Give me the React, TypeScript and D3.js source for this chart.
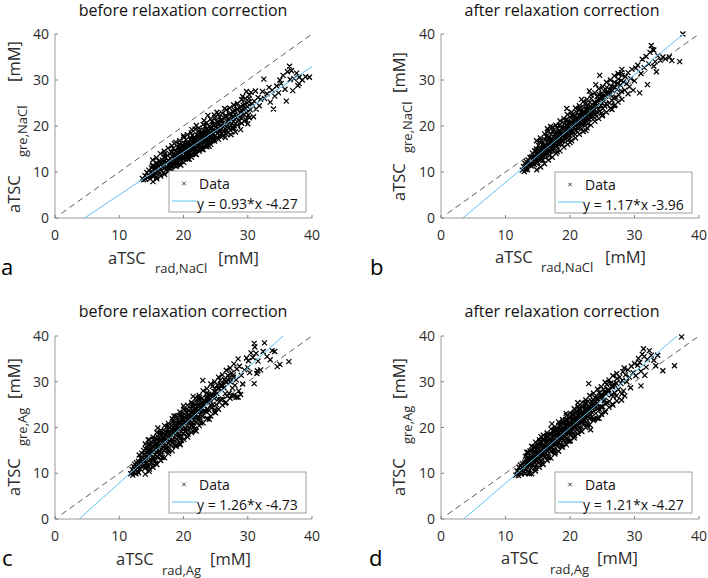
import * as d3 from "d3";

type Pt = [number, number];

// panel a: aTSC gre,NaCl vs rad,NaCl before correction
const pointsA: Pt[] = [
  [13.6, 8.6], [13.8, 8.3], [14.0, 9.2], [14.1, 8.4], [14.3, 9.9], [14.4, 8.8], [14.6, 10.4], [14.7, 9.0], [14.8, 8.5], [14.9, 9.8],
  [15.0, 10.9], [15.1, 9.3], [15.2, 10.0], [15.3, 11.4], [15.4, 9.1], [15.5, 10.6], [15.6, 9.7], [15.7, 11.0], [15.8, 8.9], [15.9, 10.3],
  [16.0, 11.8], [16.1, 10.0], [16.1, 11.2], [16.2, 12.3], [16.3, 9.8], [16.4, 10.9], [16.5, 11.6], [16.6, 10.2], [16.7, 12.6], [16.8, 11.0], [16.9, 9.9], [16.9, 11.9],
  [17.0, 12.4], [17.0, 10.8], [17.1, 11.6], [17.2, 13.2], [17.3, 10.5], [17.3, 12.0], [17.4, 11.2], [17.5, 13.6], [17.5, 10.9], [17.6, 12.5], [17.7, 11.5], [17.8, 14.0], [17.8, 10.6], [17.9, 12.2], [17.9, 11.0],
  [18.0, 13.0], [18.0, 11.6], [18.1, 12.4], [18.1, 14.3], [18.2, 11.2], [18.3, 13.5], [18.3, 12.1], [18.4, 15.1], [18.4, 11.8], [18.5, 12.9], [18.5, 14.0], [18.6, 11.4], [18.7, 13.3], [18.7, 12.5], [18.8, 14.6], [18.8, 11.9], [18.9, 13.1], [18.9, 12.3],
  [19.0, 14.2], [19.0, 12.4], [19.1, 13.5], [19.1, 15.4], [19.2, 12.1], [19.2, 13.9], [19.3, 14.8], [19.3, 12.8], [19.4, 13.3], [19.4, 16.0], [19.5, 12.6], [19.5, 14.5], [19.6, 13.7], [19.6, 15.1], [19.7, 12.3], [19.7, 14.0], [19.8, 13.2], [19.8, 15.8], [19.9, 12.9], [19.9, 14.4],
  [20.0, 15.0], [20.0, 13.3], [20.1, 14.4], [20.1, 16.3], [20.2, 12.9], [20.2, 14.9], [20.3, 13.8], [20.3, 15.6], [20.4, 14.1], [20.4, 17.0], [20.5, 13.1], [20.5, 15.2], [20.6, 14.6], [20.6, 16.5], [20.7, 13.5], [20.7, 15.0], [20.8, 14.2], [20.8, 16.0], [20.9, 12.8], [20.9, 15.4],
  [21.0, 16.0], [21.0, 14.2], [21.1, 15.3], [21.1, 17.2], [21.2, 13.8], [21.2, 15.9], [21.3, 14.7], [21.3, 16.6], [21.4, 15.1], [21.4, 18.0], [21.5, 14.0], [21.5, 16.2], [21.6, 15.5], [21.6, 17.5], [21.7, 14.5], [21.7, 16.0], [21.8, 15.2], [21.8, 17.0], [21.9, 13.9], [21.9, 16.4],
  [22.0, 17.0], [22.0, 15.1], [22.1, 16.2], [22.1, 18.1], [22.2, 14.8], [22.2, 16.8], [22.3, 15.7], [22.3, 17.5], [22.4, 16.0], [22.4, 19.0], [22.5, 15.0], [22.5, 17.2], [22.6, 16.4], [22.6, 18.4], [22.7, 15.4], [22.7, 17.0], [22.8, 16.2], [22.8, 18.0], [22.9, 14.9], [22.9, 17.3],
  [23.0, 17.9], [23.0, 16.0], [23.1, 17.1], [23.1, 19.1], [23.2, 15.7], [23.2, 17.7], [23.3, 16.6], [23.3, 18.5], [23.4, 17.0], [23.4, 20.0], [23.5, 15.9], [23.5, 18.1], [23.6, 17.3], [23.6, 19.3], [23.7, 16.3], [23.7, 18.0], [23.8, 17.1], [23.8, 19.0], [23.9, 15.8], [23.9, 18.2],
  [24.0, 18.9], [24.0, 17.0], [24.1, 18.0], [24.1, 20.0], [24.2, 16.6], [24.2, 18.6], [24.3, 17.5], [24.3, 19.4], [24.4, 18.0], [24.4, 21.0], [24.5, 16.8], [24.5, 19.1], [24.6, 18.2], [24.6, 20.2], [24.7, 17.2], [24.8, 19.0], [24.9, 17.9], [24.9, 20.6],
  [25.0, 19.8], [25.0, 17.9], [25.1, 19.0], [25.2, 20.9], [25.2, 17.5], [25.3, 19.5], [25.4, 18.4], [25.5, 20.3], [25.5, 18.9], [25.6, 22.0], [25.7, 17.8], [25.8, 20.0], [25.8, 19.1], [25.9, 21.2],
  [26.0, 18.4], [26.1, 20.6], [26.2, 19.8], [26.3, 21.7], [26.3, 18.9], [26.4, 20.2], [26.5, 19.4], [26.6, 22.3], [26.7, 19.0], [26.8, 21.0], [26.9, 20.3], [26.9, 18.6],
  [27.0, 21.6], [27.1, 19.7], [27.2, 20.9], [27.3, 22.8], [27.4, 20.2], [27.5, 21.4], [27.6, 19.5], [27.7, 22.0], [27.8, 21.1], [27.9, 23.5], [27.9, 20.0],
  [28.0, 22.5], [28.1, 20.6], [28.2, 21.8], [28.3, 23.6], [28.4, 20.9], [28.5, 22.4], [28.6, 21.2], [28.7, 24.0], [28.8, 22.0], [28.9, 19.2], [28.9, 23.0],
  [29.0, 23.4], [29.1, 21.6], [29.3, 24.5], [29.4, 22.5], [29.5, 21.0], [29.6, 23.8], [29.8, 22.9], [29.9, 25.0],
  [30.0, 24.2], [30.1, 22.4], [30.2, 26.0], [30.4, 23.5], [30.5, 27.3], [30.7, 24.8], [30.9, 22.0], [31.0, 25.4], [31.2, 27.6], [31.3, 23.7],
  [31.6, 26.2], [31.8, 24.4], [32.0, 25.8], [32.3, 27.5], [32.5, 30.2], [32.6, 26.0], [33.0, 27.0], [33.3, 28.4], [33.5, 25.2], [33.8, 27.8],
  [34.0, 23.7], [34.2, 26.5], [34.5, 28.7], [34.8, 27.2], [35.0, 30.0], [35.2, 29.2], [35.5, 31.0], [35.8, 28.0], [36.0, 25.4], [36.2, 31.8],
  [36.5, 33.0], [36.6, 30.1], [36.8, 32.0], [37.0, 27.7], [37.2, 30.3], [37.6, 31.5], [38.0, 29.2], [38.0, 30.6], [38.5, 30.0], [39.0, 30.7], [39.6, 30.6], [37.8, 28.8],
  [20.0, 17.9], [21.3, 19.2], [22.0, 20.1], [23.2, 21.2], [24.8, 22.4], [25.2, 23.0], [26.4, 23.8], [27.8, 24.6], [29.2, 26.4], [29.8, 27.5], [23.8, 22.3], [17.0, 13.9], [18.6, 16.2],
  [24.0, 15.6], [26.5, 17.5], [28.1, 18.7], [27.4, 18.1], [22.0, 13.8], [19.6, 11.5], [30.0, 20.5],
  [15.2, 12.6], [15.25, 7.9], [15.15, 11.3], [15.8, 13.1], [15.85, 8.5], [15.75, 11.9], [16.4, 14.0], [16.45, 9.1], [16.35, 12.4],
  [17.0, 14.5], [17.05, 9.5], [16.95, 13.1], [17.6, 15.2], [17.65, 10.1], [17.55, 13.5], [18.2, 15.7], [18.25, 10.5], [18.15, 14.2],
  [18.8, 16.5], [18.85, 11.2], [18.75, 14.5], [19.4, 16.8], [19.45, 11.6], [19.35, 15.3], [20.05, 17.5], [20.05, 12.1], [19.95, 15.7],
  [20.6, 18.1], [20.65, 12.8], [20.55, 16.4], [21.2, 18.5], [21.25, 13.2], [21.15, 16.9], [21.8, 19.3], [21.85, 13.9], [21.75, 17.5],
  [22.4, 19.6], [22.45, 14.5], [22.35, 18.0], [23.05, 20.3], [23.05, 14.9], [22.95, 18.6], [23.6, 20.7], [23.65, 15.5], [23.55, 19.2],
  [24.2, 21.5], [24.25, 16.0], [24.15, 19.6], [24.85, 21.8], [24.85, 16.7], [24.75, 20.3], [25.4, 22.5], [25.45, 17.1], [25.35, 20.8],
  [26.05, 22.8], [26.05, 17.8], [25.95, 21.4], [26.65, 23.5], [26.65, 18.3], [26.55, 21.9], [27.2, 23.9], [27.25, 19.1], [27.15, 22.5],
  [27.85, 24.5], [27.85, 19.5], [27.75, 23.0], [28.4, 24.9], [28.45, 20.2], [28.35, 23.6], [29.05, 25.7], [29.05, 20.6], [28.95, 24.2],
  [29.65, 26.0], [29.65, 21.4], [29.55, 24.7], [30.25, 26.7], [30.25, 21.8], [30.15, 25.3],
];

// panel b: after correction, NaCl
const pointsB: Pt[] = [
  [12.6, 10.4], [12.8, 11.2], [12.9, 10.1], [13.0, 11.9], [13.1, 10.6], [13.2, 12.3], [13.3, 11.0], [13.4, 10.5], [13.5, 12.6], [13.6, 11.4], [13.7, 12.0], [13.8, 13.1], [13.9, 11.6],
  [14.0, 13.2], [14.0, 11.3], [14.1, 12.6], [14.2, 14.1], [14.2, 11.8], [14.3, 13.3], [14.4, 12.2], [14.5, 14.6], [14.5, 11.6], [14.6, 13.4], [14.7, 12.9], [14.8, 15.0], [14.8, 11.9], [14.9, 13.8], [14.9, 12.3],
  [15.0, 14.4], [15.0, 12.1], [15.1, 13.8], [15.1, 15.8], [15.2, 12.5], [15.2, 14.6], [15.3, 13.2], [15.3, 16.5], [15.4, 12.9], [15.4, 15.3], [15.5, 14.1], [15.5, 16.8], [15.6, 12.8], [15.6, 14.7], [15.7, 13.4], [15.7, 16.0], [15.8, 14.2], [15.8, 12.6], [15.9, 15.6], [15.9, 14.0],
  [16.0, 15.6], [16.0, 13.3], [16.1, 15.0], [16.1, 17.0], [16.2, 13.7], [16.2, 15.8], [16.3, 14.3], [16.3, 17.7], [16.4, 14.1], [16.4, 16.5], [16.5, 15.3], [16.5, 18.0], [16.6, 13.9], [16.6, 15.9], [16.7, 14.5], [16.7, 17.3], [16.8, 15.4], [16.8, 13.6], [16.9, 16.8], [16.9, 15.6],
  [17.0, 16.8], [17.0, 14.5], [17.1, 16.2], [17.1, 18.2], [17.2, 14.9], [17.2, 17.0], [17.3, 15.5], [17.3, 18.9], [17.4, 15.2], [17.4, 17.7], [17.5, 16.5], [17.5, 19.1], [17.6, 15.0], [17.6, 17.0], [17.7, 15.7], [17.7, 18.4], [17.8, 16.5], [17.8, 14.7], [17.9, 18.0], [17.9, 16.8],
  [18.0, 17.9], [18.0, 15.6], [18.1, 17.3], [18.1, 19.4], [18.2, 16.1], [18.2, 18.2], [18.3, 16.7], [18.3, 20.1], [18.4, 16.4], [18.4, 18.9], [18.5, 17.6], [18.5, 20.3], [18.6, 16.2], [18.6, 18.2], [18.7, 16.8], [18.7, 19.6], [18.8, 17.7], [18.8, 15.9], [18.9, 19.2], [18.9, 18.0],
  [19.0, 19.1], [19.0, 16.8], [19.1, 18.5], [19.1, 20.5], [19.2, 17.2], [19.2, 19.4], [19.3, 17.9], [19.3, 21.3], [19.4, 17.6], [19.4, 20.1], [19.5, 18.8], [19.5, 21.4], [19.6, 17.4], [19.6, 19.4], [19.7, 18.0], [19.7, 20.8], [19.8, 18.9], [19.8, 17.0], [19.9, 20.4], [19.9, 19.2],
  [20.0, 20.2], [20.0, 17.9], [20.1, 19.6], [20.1, 21.7], [20.2, 18.4], [20.2, 20.5], [20.3, 19.0], [20.3, 22.4], [20.4, 18.8], [20.4, 21.3], [20.5, 19.9], [20.5, 22.6], [20.6, 18.5], [20.6, 20.6], [20.7, 19.2], [20.7, 22.0], [20.8, 20.0], [20.8, 18.2], [20.9, 21.6], [20.9, 20.3],
  [21.0, 21.4], [21.0, 19.1], [21.1, 20.8], [21.1, 22.9], [21.2, 19.6], [21.2, 21.7], [21.3, 20.2], [21.3, 23.6], [21.4, 19.9], [21.4, 22.4], [21.5, 21.1], [21.5, 23.8], [21.6, 19.7], [21.6, 21.8], [21.7, 20.4], [21.7, 23.1], [21.8, 21.2], [21.8, 19.4], [21.9, 22.7], [21.9, 21.5],
  [22.0, 22.6], [22.0, 20.3], [22.1, 22.0], [22.1, 24.0], [22.2, 20.7], [22.2, 22.9], [22.3, 21.4], [22.3, 24.8], [22.4, 21.0], [22.4, 23.6], [22.5, 22.3], [22.5, 25.0], [22.6, 20.8], [22.6, 22.9], [22.7, 21.6], [22.7, 24.3], [22.8, 22.4], [22.8, 20.5], [22.9, 23.9], [22.9, 22.7],
  [23.0, 23.8], [23.0, 21.5], [23.1, 23.1], [23.1, 25.2], [23.2, 21.9], [23.3, 22.6], [23.3, 26.0], [23.4, 22.2], [23.4, 24.7], [23.5, 23.5], [23.6, 22.1], [23.6, 24.0], [23.7, 22.7], [23.8, 23.6], [23.8, 21.7], [23.9, 25.1],
  [24.0, 24.9], [24.0, 22.6], [24.1, 24.3], [24.2, 26.4], [24.2, 23.0], [24.3, 25.2], [24.4, 23.6], [24.5, 26.9], [24.6, 23.2], [24.7, 25.9], [24.8, 24.5], [24.9, 22.8], [24.9, 27.0],
  [25.0, 26.1], [25.1, 23.8], [25.2, 25.5], [25.3, 27.6], [25.4, 24.3], [25.5, 26.5], [25.6, 24.9], [25.7, 28.4], [25.8, 24.6], [25.9, 27.1],
  [26.0, 27.3], [26.1, 25.0], [26.2, 26.7], [26.4, 28.7], [26.5, 25.6], [26.6, 27.7], [26.8, 26.1], [26.9, 29.5],
  [27.0, 28.4], [27.1, 26.2], [27.3, 27.9], [27.5, 30.2], [27.6, 26.7], [27.8, 28.9], [28.0, 27.5], [28.1, 31.0],
  [28.3, 29.6], [28.5, 27.8], [28.6, 30.7], [28.8, 29.2], [29.0, 31.6], [29.2, 28.5], [29.4, 30.3], [29.6, 32.3],
  [24.6, 31.0], [27.5, 31.3], [28.0, 31.6], [29.0, 27.0], [30.0, 29.8], [30.2, 32.6], [30.5, 33.2], [30.8, 27.2], [31.0, 31.4], [31.2, 34.5],
  [31.5, 32.7], [31.8, 35.1], [32.0, 29.0], [32.2, 33.5], [32.4, 36.0], [32.6, 37.5], [32.8, 36.6], [33.0, 33.0], [33.2, 34.0], [33.4, 31.8],
  [33.6, 35.3], [34.0, 34.3], [34.4, 35.0], [34.8, 34.6], [35.4, 35.0], [35.8, 34.2], [37.0, 34.0], [37.5, 40.0], [33.0, 36.5], [29.8, 27.8],
  [17.0, 19.9], [16.5, 19.4], [19.5, 23.8], [21.8, 25.8], [23.0, 27.6], [20.0, 16.4], [22.5, 19.0], [25.0, 22.2], [26.5, 23.6], [27.0, 24.6], [18.0, 14.4], [24.0, 29.0],
  [14.8, 16.8], [14.85, 10.5], [14.75, 14.6], [15.4, 17.4], [15.45, 11.1], [15.35, 15.3], [16.05, 18.3], [16.05, 11.8], [15.95, 15.9],
  [16.6, 18.8], [16.65, 12.6], [16.55, 16.7], [17.25, 19.7], [17.25, 13.2], [17.15, 17.3], [17.8, 20.2], [17.85, 14.0], [17.75, 18.1],
  [18.45, 21.1], [18.45, 14.6], [18.35, 18.7], [19.05, 21.6], [19.05, 15.4], [18.95, 19.5], [19.6, 22.5], [19.65, 16.0], [19.55, 20.1],
  [20.25, 23.0], [20.25, 16.8], [20.15, 20.9], [20.85, 23.9], [20.85, 17.4], [20.75, 21.5], [21.45, 24.4], [21.45, 18.2], [21.35, 22.3],
  [22.05, 25.3], [22.05, 18.8], [21.95, 22.9], [22.65, 25.8], [22.65, 19.6], [22.55, 23.7], [23.25, 26.7], [23.25, 20.2], [23.15, 24.3],
  [23.85, 27.2], [23.85, 21.0], [23.75, 25.1], [24.45, 28.1], [24.45, 21.6], [24.35, 25.7], [25.05, 28.6], [25.05, 22.4], [24.95, 26.5],
  [25.65, 29.5], [25.65, 23.0], [25.55, 27.1], [26.25, 30.0], [26.25, 23.8], [26.15, 27.9], [26.85, 30.9], [26.85, 24.4], [26.75, 28.5],
  [27.45, 31.4], [27.45, 25.2], [27.35, 29.3], [28.05, 32.3], [28.05, 25.8], [27.95, 29.9],
];

// panel c: before correction, Ag
const pointsC: Pt[] = [
  [11.8, 9.9], [12.0, 10.8], [12.1, 9.6], [12.2, 11.5], [12.3, 10.2], [12.4, 12.0], [12.5, 10.7], [12.6, 9.9], [12.7, 12.3], [12.8, 11.2], [12.9, 11.8], [12.9, 10.4],
  [13.0, 12.6], [13.0, 10.1], [13.1, 12.2], [13.1, 14.0], [13.2, 11.0], [13.3, 13.3], [13.3, 10.9], [13.4, 12.4], [13.5, 11.5], [13.5, 14.4], [13.6, 11.4], [13.7, 13.4], [13.8, 12.5], [13.8, 15.0], [13.9, 11.6], [13.9, 13.1],
  [14.0, 13.9], [14.0, 11.1], [14.1, 13.4], [14.1, 15.3], [14.2, 12.2], [14.2, 14.6], [14.3, 11.5], [14.3, 16.0], [14.4, 12.3], [14.4, 15.0], [14.5, 13.5], [14.5, 16.3], [14.6, 11.4], [14.6, 14.2], [14.7, 10.9], [14.7, 15.0], [14.8, 13.1], [14.8, 16.3], [14.9, 12.3], [14.9, 14.0],
  [15.0, 15.2], [15.0, 12.4], [15.1, 14.7], [15.1, 16.6], [15.2, 13.5], [15.2, 15.9], [15.3, 12.9], [15.3, 17.4], [15.4, 13.5], [15.4, 16.3], [15.5, 14.8], [15.5, 17.6], [15.6, 12.7], [15.6, 15.5], [15.7, 12.2], [15.7, 16.4], [15.8, 14.6], [15.8, 17.5], [15.9, 13.7], [15.9, 15.3],
  [16.0, 16.4], [16.0, 13.6], [16.1, 15.9], [16.1, 17.9], [16.2, 14.8], [16.2, 17.2], [16.3, 14.1], [16.3, 18.7], [16.4, 14.8], [16.4, 17.6], [16.5, 16.0], [16.5, 18.9], [16.6, 13.9], [16.6, 16.7], [16.7, 13.5], [16.7, 17.7], [16.8, 15.8], [16.8, 18.7], [16.9, 15.0], [16.9, 16.6],
  [17.0, 17.7], [17.0, 14.9], [17.1, 17.2], [17.1, 19.1], [17.2, 16.0], [17.2, 18.4], [17.3, 15.3], [17.3, 20.0], [17.4, 16.1], [17.4, 18.9], [17.5, 17.3], [17.5, 20.2], [17.6, 15.2], [17.6, 18.0], [17.7, 14.8], [17.7, 19.0], [17.8, 17.1], [17.8, 20.0], [17.9, 16.2], [17.9, 17.9],
  [18.0, 19.0], [18.0, 16.2], [18.1, 18.4], [18.1, 20.4], [18.2, 17.3], [18.2, 19.7], [18.3, 16.6], [18.3, 21.3], [18.4, 17.3], [18.4, 20.1], [18.5, 18.6], [18.5, 21.4], [18.6, 16.4], [18.6, 19.3], [18.7, 16.0], [18.7, 20.2], [18.8, 18.4], [18.8, 21.2], [18.9, 17.5], [18.9, 19.2],
  [19.0, 20.2], [19.0, 17.4], [19.1, 19.7], [19.1, 21.6], [19.2, 18.5], [19.2, 20.9], [19.3, 17.9], [19.3, 22.6], [19.4, 18.6], [19.4, 21.4], [19.5, 19.8], [19.5, 22.7], [19.6, 17.7], [19.6, 20.5], [19.7, 17.2], [19.7, 21.5], [19.8, 19.7], [19.8, 22.5], [19.9, 18.7], [19.9, 20.4],
  [20.0, 21.5], [20.0, 18.7], [20.1, 21.0], [20.1, 22.9], [20.2, 19.8], [20.2, 22.2], [20.3, 19.1], [20.3, 23.8], [20.4, 19.8], [20.4, 22.6], [20.5, 21.1], [20.5, 24.0], [20.6, 18.9], [20.6, 21.7], [20.7, 18.5], [20.7, 22.7], [20.8, 20.9], [20.8, 23.7], [20.9, 20.0], [20.9, 21.7],
  [21.0, 22.7], [21.0, 19.9], [21.1, 22.3], [21.1, 24.2], [21.2, 21.0], [21.2, 23.4], [21.3, 20.4], [21.3, 25.1], [21.4, 21.1], [21.4, 23.9], [21.5, 22.3], [21.5, 25.2], [21.6, 20.2], [21.6, 23.0], [21.7, 19.7], [21.7, 24.0], [21.8, 22.2], [21.8, 25.0], [21.9, 21.2], [21.9, 22.9],
  [22.0, 24.0], [22.0, 21.2], [22.1, 23.5], [22.1, 25.5], [22.2, 22.3], [22.2, 24.7], [22.3, 21.6], [22.3, 26.4], [22.4, 22.3], [22.4, 25.1], [22.5, 23.6], [22.5, 26.5], [22.6, 21.4], [22.6, 24.2], [22.7, 21.0], [22.7, 25.2], [22.8, 23.5], [22.8, 26.3], [22.9, 22.5], [22.9, 24.2],
  [23.0, 25.3], [23.0, 22.5], [23.1, 24.8], [23.2, 23.6], [23.2, 26.0], [23.3, 25.9], [23.4, 23.6], [23.5, 25.6], [23.6, 27.5], [23.6, 23.4], [23.7, 22.0], [23.8, 26.5], [23.8, 24.0], [23.9, 27.3], [23.9, 25.4],
  [24.0, 26.5], [24.0, 23.7], [24.1, 26.1], [24.2, 24.9], [24.3, 27.3], [24.4, 24.3], [24.5, 29.0], [24.6, 25.0], [24.7, 27.0], [24.8, 26.4], [24.9, 23.9], [24.9, 28.6],
  [25.0, 27.8], [25.1, 25.0], [25.2, 27.4], [25.3, 29.3], [25.4, 26.2], [25.5, 28.6], [25.6, 25.5], [25.7, 30.3], [25.8, 26.1], [25.9, 29.0],
  [26.0, 29.0], [26.1, 26.2], [26.3, 28.7], [26.4, 30.5], [26.5, 27.4], [26.7, 29.9], [26.8, 26.8], [26.9, 31.4],
  [27.0, 30.3], [27.1, 27.5], [27.3, 30.0], [27.5, 31.9], [27.6, 28.6], [27.8, 31.0], [28.0, 29.2], [28.2, 26.6],
  [28.3, 32.8], [28.5, 35.0], [28.7, 33.4], [28.2, 30.4], [28.6, 28.0], [28.9, 27.2], [29.0, 31.4], [29.5, 32.6], [29.8, 35.2], [30.1, 34.6],
  [30.3, 32.0], [30.5, 36.3], [30.8, 35.3], [31.0, 38.4], [31.1, 37.6], [31.3, 36.2], [31.4, 31.8], [31.0, 29.6], [31.6, 34.5], [32.0, 32.6],
  [32.4, 36.6], [32.6, 38.5], [33.0, 35.5], [33.5, 34.8], [33.8, 36.8], [34.2, 36.6], [34.6, 33.3], [35.0, 33.8], [36.4, 34.4], [30.0, 33.1], [29.2, 29.5], [31.5, 32.4],
  [16.0, 19.9], [18.5, 22.5], [21.5, 26.8], [23.0, 30.3], [14.5, 17.3], [19.5, 16.2], [22.0, 19.2], [24.0, 21.8], [25.0, 23.2], [26.5, 25.3], [27.5, 27.0], [28.5, 26.6], [20.0, 24.7],
  [14.05, 16.4], [14.05, 9.8], [13.95, 14.2], [14.65, 17.3], [14.65, 10.4], [14.55, 15.1], [15.25, 17.9], [15.25, 11.3], [15.15, 15.7],
  [15.85, 18.9], [15.85, 11.9], [15.75, 16.4], [16.45, 19.4], [16.45, 12.8], [16.35, 17.3], [17.05, 20.4], [17.05, 13.4], [16.95, 17.9],
  [17.65, 20.9], [17.65, 14.3], [17.55, 18.8], [18.25, 21.9], [18.25, 14.9], [18.15, 19.4], [18.85, 22.5], [18.85, 15.9], [18.75, 20.4],
  [19.45, 23.4], [19.45, 16.4], [19.35, 20.9], [20.05, 24.0], [20.05, 17.4], [19.95, 21.9], [20.65, 24.9], [20.65, 17.9], [20.55, 22.4],
  [21.25, 25.5], [21.25, 18.9], [21.15, 23.4], [21.85, 26.4], [21.85, 19.4], [21.75, 23.9], [22.45, 27.0], [22.45, 20.4], [22.35, 24.9],
  [23.05, 28.0], [23.05, 21.0], [22.95, 25.5], [23.65, 28.5], [23.65, 21.9], [23.55, 26.4], [24.25, 29.5], [24.25, 22.5], [24.15, 27.0],
  [24.85, 30.0], [24.85, 23.4], [24.75, 27.9], [25.45, 31.0], [25.45, 24.0], [25.35, 28.5], [26.05, 31.5], [26.05, 24.9], [25.95, 29.4],
  [26.65, 32.5], [26.65, 25.5], [26.55, 30.0], [27.25, 33.0], [27.25, 26.4], [27.15, 30.9], [27.85, 33.9], [27.85, 27.0], [27.75, 31.5],
];

// panel d: after correction, Ag
const pointsD: Pt[] = [
  [11.6, 9.6], [11.8, 10.5], [12.0, 9.5], [12.1, 11.3], [12.2, 10.1], [12.3, 11.8], [12.4, 10.6], [12.5, 9.9], [12.6, 12.1], [12.7, 11.1], [12.8, 11.6], [12.9, 10.3],
  [13.0, 12.4], [13.0, 9.9], [13.1, 12.0], [13.1, 13.7], [13.2, 10.9], [13.2, 13.1], [13.3, 10.9], [13.3, 14.6], [13.4, 11.3], [13.4, 13.5], [13.5, 12.3], [13.5, 14.6], [13.6, 10.1], [13.6, 12.8], [13.7, 9.9], [13.7, 13.3], [13.8, 12.2], [13.8, 14.9], [13.9, 11.8], [13.9, 13.1],
  [14.0, 13.6], [14.0, 11.1], [14.1, 13.2], [14.1, 14.9], [14.2, 12.1], [14.2, 14.3], [14.3, 12.0], [14.3, 15.7], [14.4, 12.5], [14.4, 14.7], [14.5, 13.4], [14.5, 15.8], [14.6, 11.3], [14.6, 13.9], [14.7, 11.0], [14.7, 14.6], [14.8, 13.4], [14.8, 16.1], [14.9, 12.8], [14.9, 14.3],
  [15.0, 14.8], [15.0, 12.3], [15.1, 14.4], [15.1, 16.1], [15.2, 13.3], [15.2, 15.5], [15.3, 13.2], [15.3, 16.9], [15.4, 13.7], [15.4, 15.9], [15.5, 14.6], [15.5, 17.0], [15.6, 12.5], [15.6, 15.1], [15.7, 12.2], [15.7, 15.8], [15.8, 14.6], [15.8, 17.3], [15.9, 14.0], [15.9, 15.5],
  [16.0, 16.0], [16.0, 13.5], [16.1, 15.6], [16.1, 17.3], [16.2, 14.5], [16.2, 16.7], [16.3, 14.4], [16.3, 18.1], [16.4, 14.9], [16.4, 17.1], [16.5, 15.8], [16.5, 18.2], [16.6, 13.7], [16.6, 16.3], [16.7, 13.4], [16.7, 17.0], [16.8, 15.8], [16.8, 18.5], [16.9, 15.2], [16.9, 16.7],
  [17.0, 17.2], [17.0, 14.7], [17.1, 16.8], [17.1, 18.5], [17.2, 15.7], [17.2, 17.9], [17.3, 15.6], [17.3, 19.3], [17.4, 16.1], [17.4, 18.3], [17.5, 17.0], [17.5, 19.4], [17.6, 14.9], [17.6, 17.5], [17.7, 14.6], [17.7, 18.2], [17.8, 17.0], [17.8, 19.7], [17.9, 16.4], [17.9, 17.9],
  [18.0, 18.4], [18.0, 15.9], [18.1, 18.0], [18.1, 19.7], [18.2, 16.9], [18.2, 19.1], [18.3, 16.8], [18.3, 20.5], [18.4, 17.3], [18.4, 19.5], [18.5, 18.2], [18.5, 20.6], [18.6, 16.1], [18.6, 18.7], [18.7, 15.8], [18.7, 19.4], [18.8, 18.2], [18.8, 20.9], [18.9, 17.6], [18.9, 19.1],
  [19.0, 19.6], [19.0, 17.1], [19.1, 19.2], [19.1, 20.9], [19.2, 18.1], [19.2, 20.3], [19.3, 18.0], [19.3, 21.7], [19.4, 18.5], [19.4, 20.7], [19.5, 19.4], [19.5, 21.8], [19.6, 17.3], [19.6, 19.9], [19.7, 17.0], [19.7, 20.6], [19.8, 19.4], [19.8, 22.1], [19.9, 18.8], [19.9, 20.3],
  [20.0, 20.8], [20.0, 18.3], [20.1, 20.4], [20.1, 22.1], [20.2, 19.3], [20.2, 21.5], [20.3, 19.2], [20.3, 22.9], [20.4, 19.7], [20.4, 21.9], [20.5, 20.6], [20.5, 23.0], [20.6, 18.5], [20.6, 21.1], [20.7, 18.2], [20.7, 21.8], [20.8, 20.6], [20.8, 23.3], [20.9, 20.0], [20.9, 21.5],
  [21.0, 22.0], [21.0, 19.5], [21.1, 21.6], [21.1, 23.3], [21.2, 20.5], [21.2, 22.7], [21.3, 20.4], [21.3, 24.1], [21.4, 20.9], [21.4, 23.1], [21.5, 21.8], [21.5, 24.2], [21.6, 19.7], [21.6, 22.3], [21.7, 19.4], [21.7, 23.0], [21.8, 21.8], [21.8, 24.5], [21.9, 21.2], [21.9, 22.7],
  [22.0, 23.2], [22.0, 20.7], [22.1, 22.8], [22.1, 24.5], [22.2, 21.7], [22.2, 23.9], [22.3, 21.6], [22.3, 25.3], [22.4, 22.1], [22.4, 24.3], [22.5, 23.0], [22.5, 25.4], [22.6, 20.9], [22.6, 23.5], [22.7, 20.6], [22.7, 24.2], [22.8, 23.0], [22.8, 25.7], [22.9, 22.4], [22.9, 23.9],
  [23.0, 24.4], [23.0, 21.9], [23.1, 24.0], [23.2, 22.9], [23.2, 25.1], [23.3, 25.8], [23.4, 23.3], [23.5, 24.2], [23.6, 26.0], [23.6, 21.9], [23.7, 24.6], [23.8, 21.8], [23.8, 24.8], [23.9, 24.4], [23.9, 26.5],
  [24.0, 25.6], [24.0, 23.1], [24.1, 25.2], [24.2, 24.1], [24.3, 26.3], [24.4, 24.2], [24.5, 27.6], [24.6, 23.9], [24.7, 26.4], [24.8, 24.6], [24.9, 27.3], [24.9, 22.9],
  [25.0, 26.8], [25.1, 24.5], [25.2, 28.3], [25.3, 25.9], [25.4, 27.7], [25.5, 25.2], [25.6, 27.3], [25.7, 29.4], [25.8, 25.4], [25.9, 28.1],
  [26.0, 28.0], [26.1, 25.7], [26.3, 29.7], [26.4, 27.1], [26.6, 28.8], [26.7, 26.8], [26.8, 29.5], [26.9, 27.6],
  [27.0, 29.2], [27.2, 26.9], [27.3, 30.7], [27.5, 28.3], [27.7, 31.0], [27.9, 29.6], [28.0, 27.3], [28.1, 30.3],
  [28.2, 32.2], [28.4, 33.0], [28.6, 31.5], [28.3, 28.0], [28.5, 26.9], [28.8, 30.0], [29.0, 32.6], [29.2, 31.0], [29.5, 33.4], [29.8, 32.0],
  [30.0, 34.0], [30.2, 31.3], [30.5, 33.6], [30.6, 35.1], [30.8, 34.2], [31.0, 32.3], [31.2, 36.0], [31.4, 37.2], [31.5, 35.5], [31.0, 29.1],
  [31.6, 31.4], [31.8, 33.2], [32.0, 34.9], [32.3, 36.8], [32.6, 35.8], [33.0, 34.7], [33.3, 33.5], [33.6, 35.8], [34.4, 32.4], [36.2, 33.5], [37.3, 39.8], [29.4, 28.7],
  [15.5, 18.0], [17.2, 20.8], [19.4, 23.1], [21.2, 25.4], [22.9, 29.6], [17.5, 15.0], [20.0, 17.0], [23.2, 19.5], [24.5, 22.0], [25.5, 23.4], [26.6, 25.1], [28.0, 26.0],
  [14.05, 15.9], [14.05, 9.9], [13.95, 13.9], [14.65, 16.8], [14.65, 10.5], [14.55, 14.5], [15.25, 17.3], [15.25, 11.3], [15.15, 15.3],
  [15.85, 18.3], [15.85, 11.9], [15.75, 16.0], [16.45, 18.8], [16.45, 12.8], [16.35, 16.9], [17.05, 19.7], [17.05, 13.3], [16.95, 17.4],
  [17.65, 20.2], [17.65, 14.2], [17.55, 18.3], [18.25, 21.2], [18.25, 14.8], [18.15, 18.9], [18.85, 21.7], [18.85, 15.7], [18.75, 19.8],
  [19.45, 22.6], [19.45, 16.2], [19.35, 20.3], [20.05, 23.1], [20.05, 17.1], [19.95, 21.2], [20.65, 24.1], [20.65, 17.7], [20.55, 21.8],
  [21.25, 24.6], [21.25, 18.6], [21.15, 22.7], [21.85, 25.5], [21.85, 19.1], [21.75, 23.2], [22.45, 26.0], [22.45, 20.0], [22.35, 24.1],
  [23.05, 27.0], [23.05, 20.6], [22.95, 24.7], [23.65, 27.5], [23.65, 21.5], [23.55, 25.4], [24.25, 28.4], [24.25, 22.0], [24.15, 26.3],
  [24.85, 28.9], [24.85, 22.9], [24.75, 26.8], [25.45, 29.9], [25.45, 23.5], [25.35, 27.8], [26.05, 30.4], [26.05, 24.4], [25.95, 28.3],
  [26.65, 31.3], [26.65, 24.9], [26.55, 29.2], [27.25, 31.8], [27.25, 25.8], [27.15, 29.7],
];

const panelPoints = [pointsA, pointsB, pointsC, pointsD];
const fitSlopes = [0.93, 1.17, 1.26, 1.21];
const fitIntercepts = [-4.27, -3.96, -4.73, -4.27];
const titles = [
  "before relaxation correction",
  "after relaxation correction",
  "before relaxation correction",
  "after relaxation correction",
];
const panelLetters = ["a", "b", "c", "d"];
const xSubs = ["rad,NaCl", "rad,NaCl", "rad,Ag", "rad,Ag"];
const ySubs = ["gre,NaCl", "gre,NaCl", "gre,Ag", "gre,Ag"];
const tickValues = [0, 10, 20, 30, 40];

const FONT = "'Open Sans', sans-serif";
const TEXT = "#2b2b2b";
const AXIS = "#9a9a9a";
const BLUE = "#5cc3ee";

type Layout = {
  left: number; right: number; top: number; bottom: number;
  titleX: number; titleY: number;
  xl: [number, number, number]; xlY: number; xsY: number;
  yl: [number, number, number]; ylX: number; ysX: number;
  letter: [number, number];
  legend: [number, number, number, number];
};

const layouts: Layout[] = [
  { left: 55, right: 312, top: 34, bottom: 218, titleX: 183, titleY: 16,
    xl: [108, 155, 218], xlY: 264, xsY: 273, yl: [213, 157, 82], ylX: 19.5, ysX: 27,
    letter: [1, 275], legend: [169, 171, 137, 41] },
  { left: 441, right: 699, top: 34, bottom: 218, titleX: 562, titleY: 16,
    xl: [495, 541, 605], xlY: 263, xsY: 272, yl: [201, 153, 93], ylX: 404.5, ysX: 412,
    letter: [370, 275], legend: [555, 172, 137, 41] },
  { left: 55, right: 312, top: 336, bottom: 519, titleX: 183, titleY: 317,
    xl: [116, 162, 210], xlY: 565, xsY: 575, yl: [496, 446, 399], ylX: 19.5, ysX: 27,
    letter: [2, 566], legend: [169, 472, 137, 41] },
  { left: 441, right: 699, top: 336, bottom: 519, titleX: 562, titleY: 317,
    xl: [501, 550, 597], xlY: 564, xsY: 574, yl: [496, 444, 399], ylX: 404.5, ysX: 412,
    letter: [369, 566], legend: [555, 472, 137, 41] },
];

const crossPath = (pts: [number, number][], s: number) =>
  pts.map(([px, py]) => `M${px - s},${py - s}L${px + s},${py + s}M${px - s},${py + s}L${px + s},${py - s}`).join("");

const Panel = ({ i }: { i: number }) => {
  const L = layouts[i];
  const x = d3.scaleLinear().domain([0, 40]).range([L.left, L.right]);
  const y = d3.scaleLinear().domain([0, 40]).range([L.bottom, L.top]);
  const m = fitSlopes[i];
  const b = fitIntercepts[i];
  const x0 = Math.max(0, -b / m);
  const x1 = Math.min(40, (40 - b) / m);
  const line = d3.line<[number, number]>().x((d) => x(d[0])).y((d) => y(d[1]));
  const fit = line([[x0, m * x0 + b], [x1, m * x1 + b]]);
  const ident = line([[1, 1], [40, 40]]);
  const marks = crossPath(panelPoints[i].map(([a, c]) => [x(a), y(c)] as [number, number]), 2.5);
  const [lx, ly, lw, lh] = L.legend;
  const legendText = `y = ${m.toFixed(2)}*x ${b.toFixed(2)}`;

  return (
    <g fontFamily={FONT}>
      <text x={L.titleX} y={L.titleY} textAnchor="middle" fontSize={16} fill="#111">{titles[i]}</text>
      <path d={marks} stroke="#000" strokeWidth={1.25} fill="none" />
      <path d={fit ?? ""} stroke={BLUE} strokeWidth={1} fill="none" />
      <path d={ident ?? ""} stroke="#333" strokeWidth={0.8} strokeDasharray="6,4" fill="none" />
      <line x1={L.left} x2={L.right} y1={L.bottom} y2={L.bottom} stroke={AXIS} strokeWidth={1} />
      <line x1={L.left} x2={L.left} y1={L.top} y2={L.bottom} stroke={AXIS} strokeWidth={1} />
      {tickValues.map((t) => (
        <g key={t}>
          <line x1={x(t)} x2={x(t)} y1={L.bottom} y2={L.bottom - 3} stroke="#666" strokeWidth={0.8} />
          <line x1={L.left} x2={L.left + 3} y1={y(t)} y2={y(t)} stroke="#666" strokeWidth={0.8} />
          <text x={x(t)} y={L.bottom + 21.5} textAnchor="middle" fontSize={14} fill={TEXT}>{t}</text>
          <text x={L.left - 6} y={y(t)} dy="0.36em" textAnchor="end" fontSize={14} fill={TEXT}>{t}</text>
        </g>
      ))}
      <text x={L.xl[0]} y={L.xlY} fontSize={16.5} fill={TEXT}>aTSC</text>
      <text x={L.xl[1]} y={L.xsY} fontSize={13} fill={TEXT}>{xSubs[i]}</text>
      <text x={L.xl[2]} y={L.xlY} fontSize={16.5} fill={TEXT}>[mM]</text>
      <text transform={`translate(${L.ylX},${L.yl[0]}) rotate(-90)`} fontSize={16.5} fill={TEXT}>aTSC</text>
      <text transform={`translate(${L.ysX},${L.yl[1]}) rotate(-90)`} fontSize={13} fill={TEXT}>{ySubs[i]}</text>
      <text transform={`translate(${L.ylX},${L.yl[2]}) rotate(-90)`} fontSize={16.5} fill={TEXT}>[mM]</text>
      <text x={L.letter[0]} y={L.letter[1]} fontSize={22} fill="#000">{panelLetters[i]}</text>
      <rect x={lx} y={ly} width={lw} height={lh} fill="#fff" stroke="#888" strokeWidth={0.8} />
      <path d={crossPath([[lx + 15, ly + 12.5]], 1.8)} stroke="#111" strokeWidth={0.8} />
      <text x={lx + 30} y={ly + 18} fontSize={14} fill="#111">Data</text>
      <line x1={lx + 3} x2={lx + 28} y1={ly + 30} y2={ly + 30} stroke={BLUE} strokeWidth={1} />
      <text x={lx + 28} y={ly + 38} fontSize={14} fill="#111">{legendText}</text>
    </g>
  );
};

export default function App() {
  return (
    <div style={{ position: "absolute", left: 0, top: 0 }}>
      <svg width={708} height={578} style={{ display: "block", background: "#fff" }}>
        {[0, 1, 2, 3].map((i) => (
          <Panel key={i} i={i} />
        ))}
      </svg>
    </div>
  );
}
